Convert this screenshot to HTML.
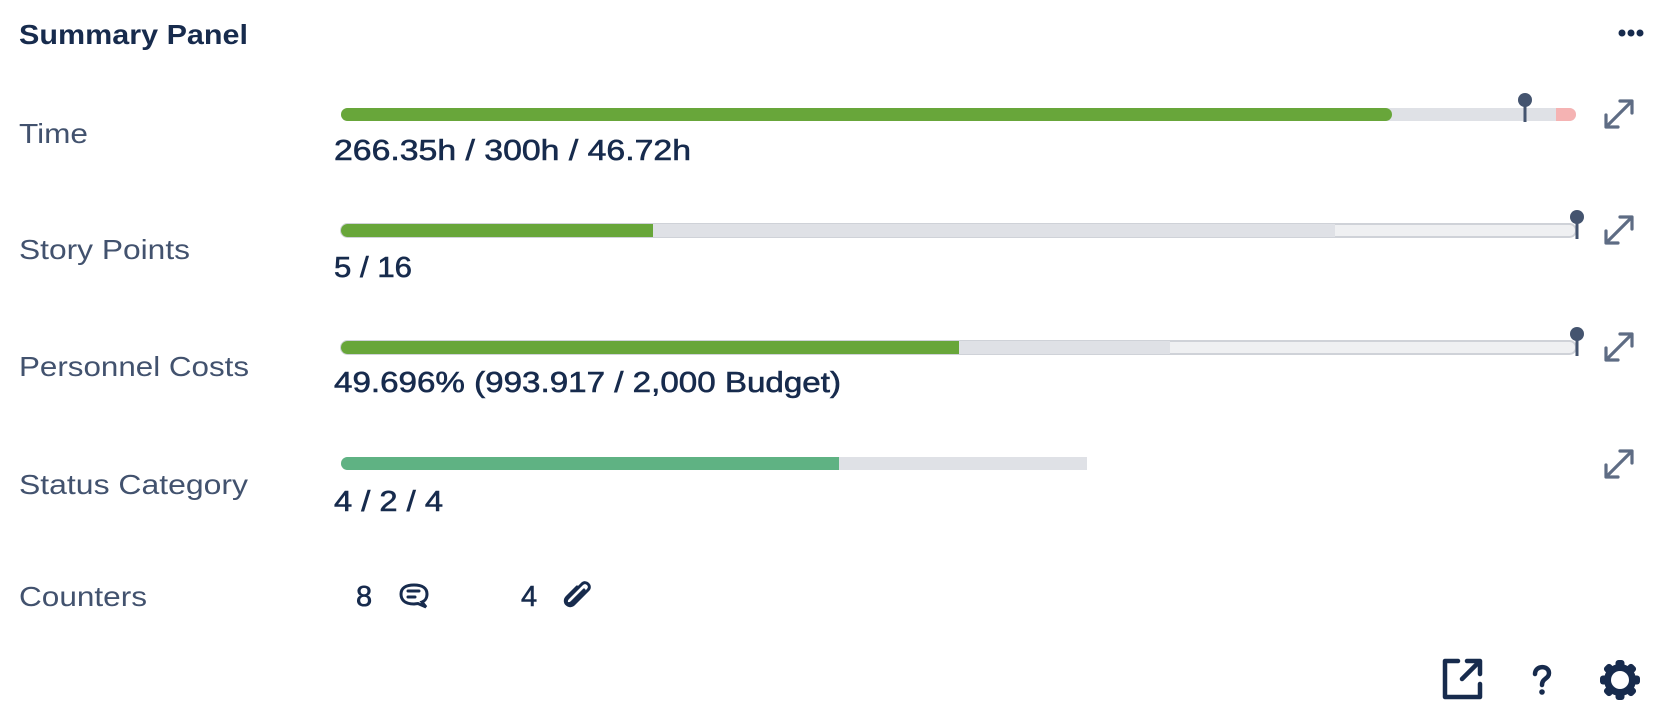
<!DOCTYPE html>
<html><head><meta charset="utf-8"><style>
html,body{margin:0;padding:0;background:#fff;width:1666px;height:724px;overflow:hidden}
svg{display:block}
.lbl{font-family:"Liberation Sans",sans-serif;font-size:28px;fill:#42526e}
.val{font-family:"Liberation Sans",sans-serif;font-size:29px;fill:#172b4d;stroke:#172b4d;stroke-width:0.6px}
</style></head><body>
<svg width="1666" height="724" viewBox="0 0 1666 724" xmlns="http://www.w3.org/2000/svg">
<text x="19" y="44" font-family="Liberation Sans, sans-serif" font-size="28" font-weight="bold" fill="#172b4d" textLength="229" lengthAdjust="spacingAndGlyphs">Summary Panel</text>
<circle cx="1622" cy="33" r="3.5" fill="#172b4d"/><circle cx="1631" cy="33" r="3.5" fill="#172b4d"/><circle cx="1640" cy="33" r="3.5" fill="#172b4d"/>

<!-- Time -->
<text class="lbl" x="19" y="143" textLength="69" lengthAdjust="spacingAndGlyphs">Time</text>
<rect x="341" y="108" width="1235" height="13" rx="6.5" fill="#dfe1e6"/>
<path d="M1556 108 H1569.5 A6.5 6.5 0 0 1 1569.5 121 H1556 Z" fill="#f5b3b3"/>
<rect x="341" y="108" width="1051" height="13" rx="6.5" fill="#68a63a"/>
<line x1="1525" y1="100" x2="1525" y2="122" stroke="#44546f" stroke-width="3"/>
<circle cx="1525" cy="100" r="7" fill="#44546f"/>
<text class="val" x="334" y="160" textLength="357" lengthAdjust="spacingAndGlyphs">266.35h / 300h / 46.72h</text>

<!-- Story Points -->
<text class="lbl" x="19" y="259" textLength="171" lengthAdjust="spacingAndGlyphs">Story Points</text>
<rect x="341" y="224" width="1235" height="13" rx="6.5" fill="#eff0f2" stroke="#cfd2d8" stroke-width="2"/>
<path d="M347.5 224 H1335 V237 H347.5 A6.5 6.5 0 0 1 347.5 224Z" fill="#dfe1e6"/>
<path d="M347.5 224 H653 V237 H347.5 A6.5 6.5 0 0 1 347.5 224Z" fill="#68a63a"/>
<line x1="1577" y1="217" x2="1577" y2="239" stroke="#44546f" stroke-width="3"/>
<circle cx="1577" cy="217" r="7" fill="#44546f"/>
<text class="val" x="334" y="277" textLength="78" lengthAdjust="spacingAndGlyphs">5 / 16</text>

<!-- Personnel -->
<text class="lbl" x="19" y="376" textLength="230" lengthAdjust="spacingAndGlyphs">Personnel Costs</text>
<rect x="341" y="341" width="1235" height="13" rx="6.5" fill="#eff0f2" stroke="#cfd2d8" stroke-width="2"/>
<path d="M347.5 341 H1170 V354 H347.5 A6.5 6.5 0 0 1 347.5 341Z" fill="#dfe1e6"/>
<path d="M347.5 341 H959 V354 H347.5 A6.5 6.5 0 0 1 347.5 341Z" fill="#68a63a"/>
<line x1="1577" y1="334" x2="1577" y2="356" stroke="#44546f" stroke-width="3"/>
<circle cx="1577" cy="334" r="7" fill="#44546f"/>
<text class="val" x="334" y="392" textLength="507" lengthAdjust="spacingAndGlyphs">49.696% (993.917 / 2,000 Budget)</text>

<!-- Status -->
<text class="lbl" x="19" y="494" textLength="229" lengthAdjust="spacingAndGlyphs">Status Category</text>
<path d="M347.5 457 H1087 V470 H347.5 A6.5 6.5 0 0 1 347.5 457Z" fill="#dfe1e6"/>
<path d="M347.5 457 H839 V470 H347.5 A6.5 6.5 0 0 1 347.5 457Z" fill="#5fb283"/>
<text class="val" x="334" y="511" textLength="109" lengthAdjust="spacingAndGlyphs">4 / 2 / 4</text>

<!-- expand icons -->
<g stroke="#5e6c84" stroke-width="3.2" fill="none" stroke-linecap="round" stroke-linejoin="round">
<g><line x1="1608" y1="125" x2="1630" y2="103"/><polyline points="1620,101 1632,101 1632,113"/><polyline points="1606,115 1606,127 1618,127"/></g>
<g transform="translate(0,116)"><line x1="1608" y1="125" x2="1630" y2="103"/><polyline points="1620,101 1632,101 1632,113"/><polyline points="1606,115 1606,127 1618,127"/></g>
<g transform="translate(0,233)"><line x1="1608" y1="125" x2="1630" y2="103"/><polyline points="1620,101 1632,101 1632,113"/><polyline points="1606,115 1606,127 1618,127"/></g>
<g transform="translate(0,350)"><line x1="1608" y1="125" x2="1630" y2="103"/><polyline points="1620,101 1632,101 1632,113"/><polyline points="1606,115 1606,127 1618,127"/></g>
</g>

<!-- Counters -->
<text class="lbl" x="19" y="606" textLength="128" lengthAdjust="spacingAndGlyphs">Counters</text>
<text class="val" x="356" y="606">8</text>
<g stroke="#172b4d" stroke-width="3" fill="none" stroke-linecap="round">
<path d="M414 604 C404 604 401 599 401 594 C401 588 406 585 414 585 C422 585 427 588 427 594 C427 598 425 601 422 602 L426 607 L418 603.5 Z"/>
<line x1="408" y1="591" x2="419" y2="591"/><line x1="408" y1="597" x2="415" y2="597"/>
</g>
<text class="val" x="521" y="606">4</text>
<path d="M584 590 L572 602 C568 606 564 602 568 598 L582 584 C586 580 592 586 588 590 L574 604 C569 609 562 602 567 597 L577 587" stroke="#172b4d" stroke-width="3" fill="none" stroke-linecap="round"/>

<!-- bottom icons -->
<g stroke="#172b4d" stroke-width="4.5" fill="none" stroke-linecap="round" stroke-linejoin="round">
<path d="M1458 661 H1445 V697 H1480 V684"/>
<line x1="1462" y1="679" x2="1479" y2="662"/><polyline points="1467,661 1480,661 1480,674"/>
<path d="M1535 674 C1535 665 1549 665 1549 673 C1549 679 1542 678 1542 685"/>
</g>
<circle cx="1542" cy="692" r="2.8" fill="#172b4d"/>
<g transform="translate(1620,680)">
<g fill="#172b4d">
<rect x="-4.5" y="-20" width="9" height="40" rx="3"/>
<rect x="-4.5" y="-20" width="9" height="40" rx="3" transform="rotate(45)"/>
<rect x="-4.5" y="-20" width="9" height="40" rx="3" transform="rotate(90)"/>
<rect x="-4.5" y="-20" width="9" height="40" rx="3" transform="rotate(135)"/>
<circle r="16"/>
</g>
<circle r="9" fill="#fff"/>
</g>
</svg>
</body></html>
